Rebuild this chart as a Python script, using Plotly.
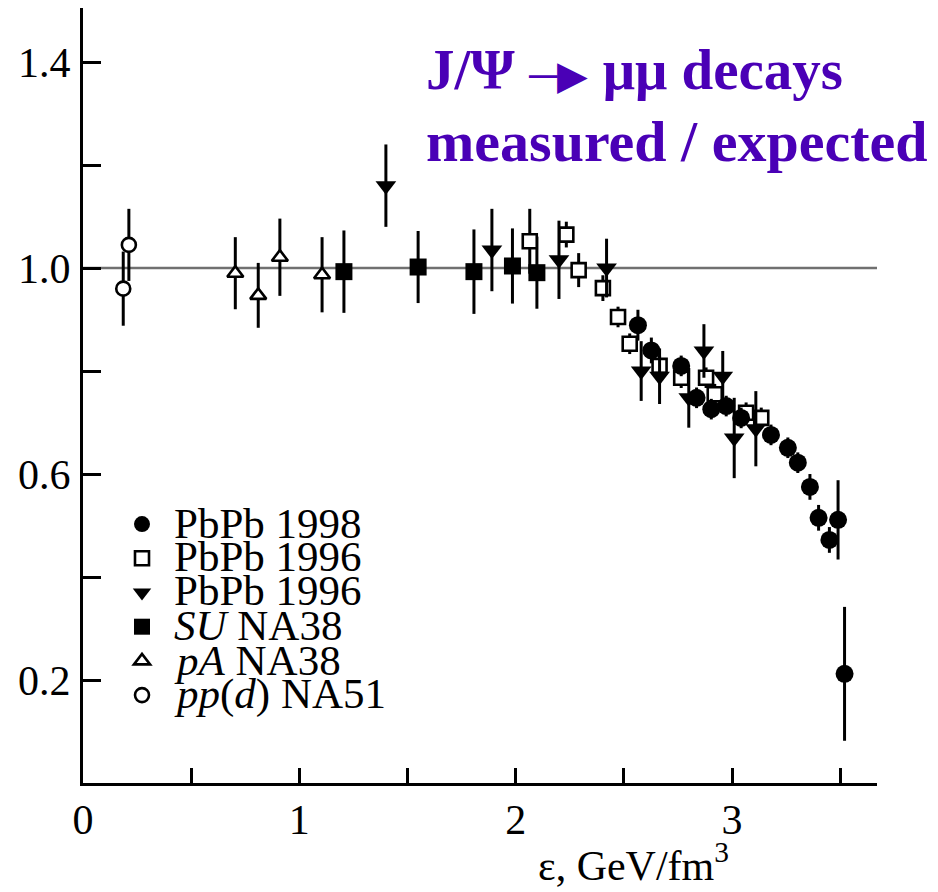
import plotly.graph_objects as go

# ---------------- data ----------------
pbpb98_x = [2.565, 2.627, 2.765, 2.836, 2.904, 2.973, 3.042, 3.18, 3.258, 3.304, 3.36, 3.40, 3.45, 3.49, 3.52]
pbpb98_y = [0.889, 0.840, 0.810, 0.748, 0.726, 0.732, 0.709, 0.676, 0.651, 0.622, 0.575, 0.515, 0.472, 0.511, 0.212]
pbpb98_e = [0.030, 0.025, 0.020, 0.020, 0.020, 0.020, 0.020, 0.020, 0.020, 0.020, 0.025, 0.025, 0.025, 0.077, 0.130]

pbpb96sq_x = [2.065, 2.234, 2.291, 2.403, 2.473, 2.527, 2.665, 2.765, 2.88, 2.92, 3.065, 3.135]
pbpb96sq_y = [1.052, 1.065, 0.996, 0.961, 0.905, 0.853, 0.810, 0.787, 0.787, 0.755, 0.719, 0.709]
pbpb96sq_e = [0.063, 0.025, 0.033, 0.025, 0.020, 0.020, 0.020, 0.020, 0.020, 0.020, 0.020, 0.020]

pbpb96tr_x = [1.40, 1.89, 2.20, 2.42, 2.58, 2.665, 2.80, 2.87, 2.957, 3.01, 3.11]
pbpb96tr_y = [1.160, 1.035, 1.016, 1.000, 0.800, 0.790, 0.748, 0.839, 0.790, 0.670, 0.688]
pbpb96tr_e = [0.080, 0.080, 0.076, 0.057, 0.058, 0.054, 0.058, 0.052, 0.049, 0.078, 0.073]

su_x = [1.206, 1.549, 1.807, 1.985, 2.098]
su_y = [0.993, 1.002, 0.993, 1.004, 0.991]
su_e = [0.080, 0.070, 0.082, 0.073, 0.070]

pa_x = [0.704, 0.81, 0.91, 1.105]
pa_y = [0.990, 0.947, 1.021, 0.987]
pa_e = [0.070, 0.063, 0.075, 0.073]

pp_x = [0.186, 0.212]
pp_y = [0.960, 1.045]
pp_e = [0.072, 0.070]

ref_level = 1.0

x_tickvals = [0, 1, 2, 3]
x_ticktext = ["0", "1", "2", "3"]
x_minor_tickvals = [0.5, 1.5, 2.5, 3.5]
y_tickvals = [0.2, 0.6, 1.0, 1.4]
y_ticktext = ["0.2", "0.6", "1.0", "1.4"]
y_minor_tickvals = [0.4, 0.8, 1.2]

legend_labels = ["PbPb 1998", "PbPb 1996", "PbPb 1996", "<i>SU</i> NA38", "<i>pA</i> NA38", "<i>pp</i>(<i>d</i>) NA51"]

title_line1 = "<b>J/\u03A8</b> <span style='font-size:40px'>\u2500\u25B6</span> <b>\u03BC\u03BC decays</b>"
title_line2 = "<b>measured / expected</b>"
x_title = "\u03B5, GeV/fm<sup>3</sup>"

# ---------------- figure ----------------
OFF = 8                      # page body margin of the html page
W, H = 938 - OFF, 892 - OFF
ML, MR, MT, MB = 83 - OFF, 61, 8 - OFF, 109
SERIF = "Liberation Serif, Times New Roman, serif"
PURPLE = "#4a00b6"

fig = go.Figure()


def add(x, y, e, symbol, fill, size, lw, rank):
    fig.add_trace(go.Scatter(
        x=x, y=y, mode="markers", name="", legendrank=rank, showlegend=True,
        marker=dict(symbol=symbol, size=size, color=fill,
                    line=dict(color="black", width=lw)),
        error_y=dict(type="data", array=e, visible=True, color="black",
                     thickness=3, width=0),
    ))


add(pp_x, pp_y, pp_e, "circle", "white", 14, 2.6, 6)
add(pa_x, pa_y, pa_e, "triangle-up", "white", 14, 2.6, 5)
add(su_x, su_y, su_e, "square", "black", 17, 0, 4)
add(pbpb96sq_x, pbpb96sq_y, pbpb96sq_e, "square", "white", 14, 2.6, 2)
add(pbpb96tr_x, pbpb96tr_y, pbpb96tr_e, "triangle-down", "black", 18, 0, 3)
add(pbpb98_x, pbpb98_y, pbpb98_e, "circle", "black", 18, 0, 1)

fig.add_hline(y=ref_level, line=dict(color="#707070", width=2.5), layer="below")

axis_common = dict(
    showline=True, linecolor="black", linewidth=3, mirror=False,
    showgrid=False, zeroline=False, ticks="inside", tickwidth=2.5,
    tickcolor="black", tickfont=dict(family=SERIF, size=42, color="black"),
    tickmode="array",
)
fig.update_xaxes(range=[0, 3.67], tickvals=x_tickvals, ticktext=x_ticktext,
                 ticklen=15, ticklabelstandoff=-2,
                 minor=dict(tickmode="array", tickvals=x_minor_tickvals, ticks="inside",
                            ticklen=15, tickwidth=2.5, tickcolor="black", showgrid=False),
                 **axis_common)
fig.update_yaxes(range=[0, 1.505], tickvals=y_tickvals, ticktext=y_ticktext,
                 ticklen=18, ticklabelstandoff=1,
                 minor=dict(tickmode="array", tickvals=y_minor_tickvals, ticks="inside",
                            ticklen=18, tickwidth=2.5, tickcolor="black", showgrid=False),
                 **axis_common)

plot_w = W - ML - MR
plot_h = H - MT - MB


def px(xp):
    # page pixel -> paper fraction
    return (xp - OFF - ML) / plot_w


def py(yp):
    return (H - MB - (yp - OFF)) / plot_h


annotations = []
# title
annotations.append(dict(text=title_line1, x=px(424), y=py(69),
                        xref="paper", yref="paper", xanchor="left", yanchor="middle",
                        showarrow=False, font=dict(family=SERIF, size=57, color=PURPLE)))
annotations.append(dict(text=title_line2, x=px(424), y=py(141),
                        xref="paper", yref="paper", xanchor="left", yanchor="middle",
                        showarrow=False, font=dict(family=SERIF, size=58, color=PURPLE)))
# x title
annotations.append(dict(text=x_title, x=px(633), y=py(862), xref="paper", yref="paper",
                        xanchor="center", yanchor="middle", showarrow=False,
                        font=dict(family=SERIF, size=42, color="black")))
# legend labels
row_y = [523, 556, 590, 625, 660, 694]
for lab, ry in zip(legend_labels, row_y):
    annotations.append(dict(text=lab, x=px(172), y=py(ry), xref="paper", yref="paper",
                            xanchor="left", yanchor="middle", showarrow=False,
                            font=dict(family=SERIF, size=43, color="black")))

fig.update_layout(
    width=W, height=H,
    margin=dict(l=ML, r=MR, t=MT, b=MB, pad=0),
    paper_bgcolor="white", plot_bgcolor="white",
    showlegend=True,
    legend=dict(x=px(122), y=py(502), xanchor="left", yanchor="top",
                bgcolor="rgba(0,0,0,0)", borderwidth=0,
                font=dict(family=SERIF, size=24, color="black"),
                itemsizing="trace", tracegroupgap=0),
    annotations=annotations,
)

fig.write_html("out.html")
